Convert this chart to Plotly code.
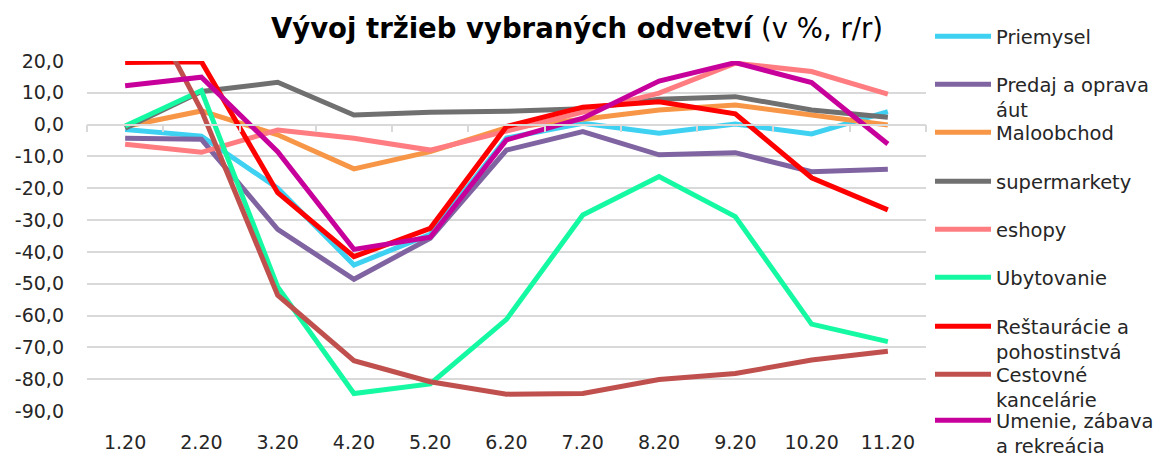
import plotly.graph_objects as go

months = ["1.20", "2.20", "3.20", "4.20", "5.20", "6.20", "7.20", "8.20", "9.20", "10.20", "11.20"]

priemysel = [-1.5, -3.6, -20.0, -44.1, -34.5, -4.2, 0.4, -2.7, 0.2, -2.9, 4.1]
predaj_aut = [-4.3, -4.6, -32.9, -48.6, -35.7, -8.0, -2.2, -9.5, -8.8, -14.8, -14.0]
maloobchod = [-0.6, 4.3, -3.2, -13.9, -8.5, -1.0, 1.7, 4.6, 6.2, 3.0, -0.1]
supermarkety = [-1.1, 10.4, 13.3, 3.0, 3.9, 4.2, 5.0, 8.0, 8.8, 4.6, 2.3]
eshopy = [-6.2, -8.7, -1.7, -4.3, -8.0, -2.0, 4.0, 9.9, 19.3, 16.7, 9.6]
ubytovanie = [-0.4, 10.7, -51.0, -84.5, -81.5, -61.2, -28.4, -16.3, -28.9, -62.7, -68.2]
restauracie = [19.5, 19.8, -21.4, -41.5, -32.6, -0.6, 5.5, 7.2, 3.4, -16.7, -26.8]
cestovne = [50.0, 4.5, -53.6, -74.2, -80.8, -84.7, -84.5, -80.1, -78.2, -74.0, -71.2]
umenie = [12.2, 14.9, -8.5, -39.2, -35.4, -4.8, 2.0, 13.7, 19.5, 13.2, -6.1]

series_names = ["Priemysel", "Predaj a oprava<br>áut", "Maloobchod", "supermarkety", "eshopy",
                "Ubytovanie", "Reštaurácie a<br>pohostinstvá", "Cestovné<br>kancelárie",
                "Umenie, zábava<br>a rekreácia"]
series_values = [priemysel, predaj_aut, maloobchod, supermarkety, eshopy,
                 ubytovanie, restauracie, cestovne, umenie]
colors = ["#3FD1F1", "#8064A2", "#F79646", "#707070", "#FF7C80",
          "#14F9A2", "#FF0000", "#C0504D", "#C8009B"]

y_tickvals = [20, 10, 0, -10, -20, -30, -40, -50, -60, -70, -80, -90]
y_ticktext = ["20,0", "10,0", "0,0", "-10,0", "-20,0", "-30,0", "-40,0", "-50,0",
              "-60,0", "-70,0", "-80,0", "-90,0"]

title_bold = "Vývoj tržieb vybraných odvetví"
title_rest = " (v %, r/r)"

FONT = "DejaVu Sans"
TXT = "#262626"
GRID = "#D9D9D9"

W, H = 1171, 457
ML, MR, MT, MB = 87, 245, 61, 46
plot_h = H - MT - MB

# legend item centres (pixels from top)
legend_px = [36, 84, 132, 181, 229, 277, 326, 374, 420]

fig = go.Figure()
for i, (name, vals, col) in enumerate(zip(series_names, series_values, colors)):
    lg = "legend" if i == 0 else f"legend{i+1}"
    fig.add_trace(go.Scatter(
        x=months, y=vals, name=name, mode="lines",
        line=dict(color=col, width=5),
        legend=lg,
    ))

# invisible trace to carry the category axis drawn at zero
fig.add_trace(go.Scatter(x=months, y=[None] * len(months), xaxis="x2", yaxis="y",
                         showlegend=False, hoverinfo="skip", mode="lines"))

legends = {}
for i, py in enumerate(legend_px):
    key = "legend" if i == 0 else f"legend{i+1}"
    legends[key] = dict(
        x=(930 - ML) / (W - ML - MR),
        xanchor="left",
        y=(H - MB - (py - 19)) / plot_h,
        yanchor="top",
        bgcolor="rgba(0,0,0,0)",
        font=dict(family=FONT, size=19.5, color=TXT),
        valign="top",
        itemclick=False,
        itemwidth=56,
        tracegroupgap=0,
    )

zero_pos = (0 - (-90)) / (20 - (-90))

fig.update_layout(
    width=W, height=H,
    margin=dict(l=ML, r=MR, t=MT, b=MB, autoexpand=False),
    paper_bgcolor="white", plot_bgcolor="white",
    font=dict(family=FONT, color=TXT),
    title=dict(
        text=f"<b>{title_bold}</b>{title_rest}",
        x=577 / W, xanchor="center",
        y=1 - 28 / H, yanchor="middle",
        font=dict(family=FONT, size=27.5, color="#000000"),
    ),
    xaxis=dict(
        type="category", range=[-0.5, len(months) - 0.5],
        showgrid=False, showline=False, zeroline=False, ticks="",
        tickfont=dict(family=FONT, size=19, color=TXT),
        ticklabelstandoff=18,
    ),
    xaxis2=dict(
        type="category", range=[-0.5, len(months) - 0.5],
        overlaying="x", anchor="free", position=zero_pos, side="bottom",
        showgrid=False, zeroline=False, showline=True, linecolor=GRID, linewidth=1.5,
        ticks="outside", tickson="boundaries", ticklen=7, tickcolor=GRID, tickwidth=1.5,
        showticklabels=False,
    ),
    yaxis=dict(
        range=[-90, 20], tickvals=y_tickvals, ticktext=y_ticktext,
        showgrid=True, gridcolor=GRID, gridwidth=1.5, zeroline=False,
        tickfont=dict(family=FONT, size=19, color=TXT),
        ticklabelstandoff=22,
    ),
    **legends,
)

fig.write_html("out.html", config={"displayModeBar": False},
               post_script="document.body.style.margin='0';")
